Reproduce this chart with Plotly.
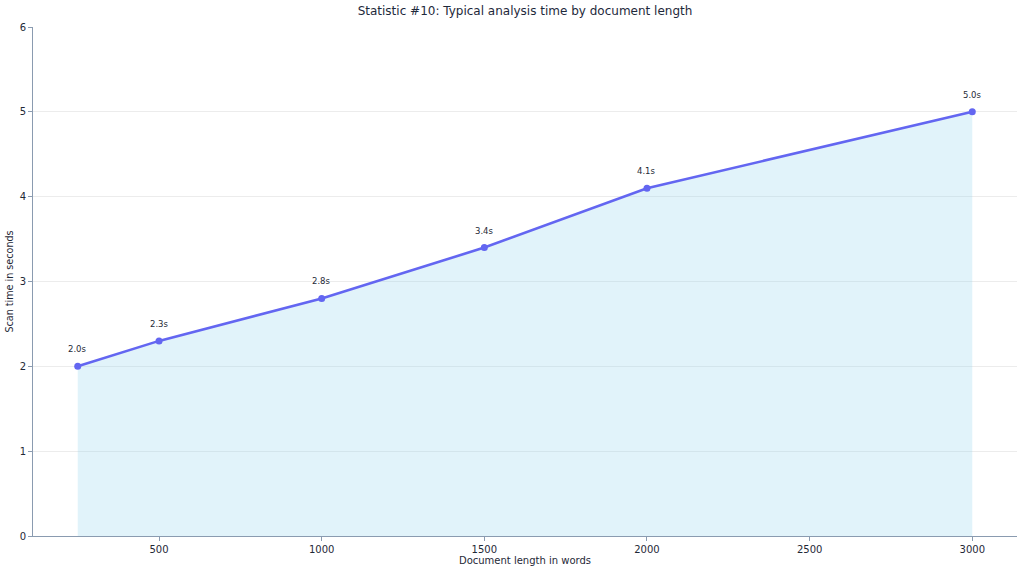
import plotly.graph_objects as go

# document length (words) vs typical scan time (seconds)
doc_lengths = [250, 500, 1000, 1500, 2000, 3000]
scan_times = [2.0, 2.3, 2.8, 3.4, 4.1, 5.0]
point_labels = [f"{t:.1f}s" for t in scan_times]

title_text = "Statistic #10: Typical analysis time by document length"
font_family = "DejaVu Sans"
axis_color = "#8a9bb0"
text_color = "#334155"

fig = go.Figure()

fig.add_trace(go.Scatter(
    x=doc_lengths, y=scan_times,
    mode="lines+markers",
    line=dict(color="#6366f1", width=2.6),
    marker=dict(size=7, color="#6366f1"),
    fill="tozeroy",
    fillcolor="rgba(135,206,235,0.25)",
    hoverinfo="x+y",
    showlegend=False,
))

# value labels above each point
for x, y, lab in zip(doc_lengths, scan_times, point_labels):
    fig.add_annotation(x=x, y=y, text=lab, showarrow=False, yshift=17,
                       font=dict(size=8.5, color="#1f2937", family=font_family))

fig.update_layout(
    width=1024, height=572,
    margin=dict(l=33, r=7, t=27, b=36, autoexpand=False),
    paper_bgcolor="white", plot_bgcolor="white",
    font=dict(family=font_family, size=11, color=text_color),
    title=dict(text=title_text, xref="paper", x=0.5, xanchor="center",
               y=1 - 11 / 572, yanchor="middle",
               font=dict(size=12, color="#1e293b")),
)

fig.update_xaxes(
    range=[112.5, 3137.5],
    tickvals=[500, 1000, 1500, 2000, 2500, 3000],
    automargin=False,
    showgrid=False, zeroline=False,
    showline=True, linecolor=axis_color, linewidth=1,
    ticks="outside", ticklen=4, tickcolor=axis_color,
    tickfont=dict(size=10, color="#1f2937"),
    title=dict(text="Document length in words", font=dict(size=10, color="#1f2937"), standoff=2),
)
fig.update_yaxes(
    range=[0, 6], dtick=1,
    automargin=False,
    showgrid=True, gridcolor="rgba(200,200,200,0.35)", gridwidth=1,
    zeroline=False,
    showline=True, linecolor=axis_color, linewidth=1,
    ticks="outside", ticklen=4, tickcolor=axis_color,
    tickfont=dict(size=10, color="#1f2937"),
    title=dict(text="Scan time in seconds", font=dict(size=9.6, color="#1f2937"), standoff=4),
)

# page has a default body margin; drop it so the figure fills the window
fig.write_html("out.html", config={"displayModeBar": False},
               post_script="document.body.style.margin='0';")
